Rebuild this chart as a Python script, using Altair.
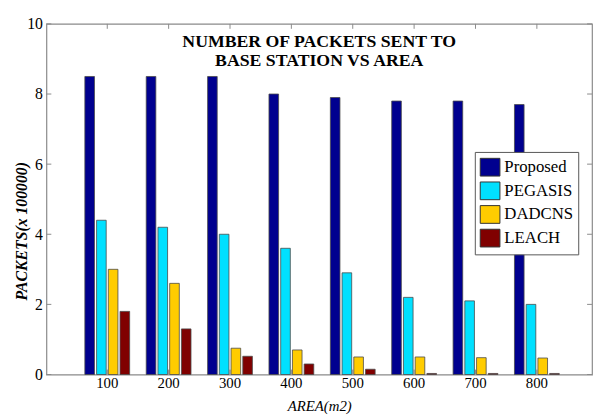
import altair as alt
import pandas as pd

# ---- data ----
areas = ["100", "200", "300", "400", "500", "600", "700", "800"]
methods = ["Proposed", "PEGASIS", "DADCNS", "LEACH"]
proposed = [8.5, 8.5, 8.5, 8.0, 7.9, 7.8, 7.8, 7.7]
pegasis = [4.4, 4.2, 4.0, 3.6, 2.9, 2.2, 2.1, 2.0]
dadcns = [3.0, 2.6, 0.75, 0.7, 0.5, 0.5, 0.48, 0.47]
leach = [1.8, 1.3, 0.52, 0.3, 0.15, 0.03, 0.03, 0.03]
colors = ["#00008F", "#00E0FF", "#FFCC00", "#800000"]
y_ticks = [0, 2, 4, 6, 8, 10]
title_lines = ["NUMBER OF PACKETS SENT TO", "BASE STATION VS AREA"]
y_title = "PACKETS(x 100000)"
x_title = "AREA(m2)"

series = {"Proposed": proposed, "PEGASIS": pegasis, "DADCNS": dadcns, "LEACH": leach}
rows = []
for m in methods:
    for a, v in zip(areas, series[m]):
        rows.append({"area": a, "method": m, "value": v})
df = pd.DataFrame(rows)
df_area = pd.DataFrame({"area": areas})
df_y = pd.DataFrame({"value": y_ticks})
df_title = pd.DataFrame({"t": [0]})

W, H = 554, 356
SERIF = "Liberation Serif"
GRAY = "#8a8a8a"

xscale = alt.Scale(domain=areas, paddingInner=0.27, paddingOuter=0.58, align=0.54)
yscale = alt.Scale(domain=[0, 10])

bars = alt.Chart(df).mark_bar(stroke="#4a4a4a", strokeWidth=0.8).encode(
    x=alt.X("area:N", scale=xscale, sort=areas,
            axis=alt.Axis(title=x_title, labelAngle=0, ticks=False, domain=False,
                          bandPosition=0.5, labelAlign="center",
                          labelPadding=8, labelFontSize=15, labelFont=SERIF,
                          labelColor="black", titleFont=SERIF, titleFontSize=15,
                          titleFontStyle="italic", titleFontWeight="normal",
                          titleColor="black", titlePadding=9)),
    xOffset=alt.XOffset("method:N", sort=methods,
                        scale=alt.Scale(domain=methods, paddingInner=0.18)),
    y=alt.Y("value:Q", scale=yscale,
            axis=alt.Axis(title=y_title, values=y_ticks, ticks=False, domain=False,
                          grid=False, labelPadding=4, labelFontSize=16,
                          labelFont=SERIF, labelColor="black",
                          titleFont=SERIF, titleFontSize=16, titleFontStyle="italic",
                          titleFontWeight="bold", titleColor="black",
                          titleX=-25, titleY=210, titleBaseline="middle",
                          titleAlign="center", titleAngle=270)),
    color=alt.Color("method:N", sort=methods,
                    scale=alt.Scale(domain=methods, range=colors),
                    legend=alt.Legend(title=None, orient="none", legendX=435,
                                      legendY=130, symbolType="M-1,-0.9H1V0.9H-1Z",
                                      symbolSize=400, symbolStrokeColor="#333333",
                                      symbolStrokeWidth=1, symbolOpacity=1,
                                      labelFont=SERIF, labelFontSize=17,
                                      labelColor="black", rowPadding=1,
                                      padding=5, strokeColor="#555555",
                                      fillColor="white", labelOffset=4)),
)

top_ticks = alt.Chart(df_area).mark_rule(color=GRAY, strokeWidth=1).encode(
    x=alt.X("area:N", scale=xscale, sort=areas),
    y=alt.value(0), y2=alt.value(5))
bot_ticks = alt.Chart(df_area).mark_rule(color=GRAY, strokeWidth=1).encode(
    x=alt.X("area:N", scale=xscale, sort=areas),
    y=alt.value(H), y2=alt.value(H - 5))
left_ticks = alt.Chart(df_y).mark_rule(color=GRAY, strokeWidth=1).encode(
    y=alt.Y("value:Q", scale=yscale), x=alt.value(0), x2=alt.value(5))
right_ticks = alt.Chart(df_y).mark_rule(color=GRAY, strokeWidth=1).encode(
    y=alt.Y("value:Q", scale=yscale), x=alt.value(W), x2=alt.value(W - 5))

title = alt.Chart(df_title).mark_text(
    font=SERIF, fontSize=18, fontWeight="bold", color="black",
    baseline="top", align="center", lineHeight=20).encode(
    x=alt.value(W / 2), y=alt.value(9), text=alt.value(title_lines))

chart = alt.layer(bot_ticks, bars, top_ticks, left_ticks, right_ticks, title).properties(
    width=W, height=H, padding={"left": 6, "top": 5, "right": 0, "bottom": 0},
    background="white",
).configure_view(stroke=GRAY, strokeWidth=1.2)

chart.save("out.html", embed_options={"renderer": "svg", "actions": False})
